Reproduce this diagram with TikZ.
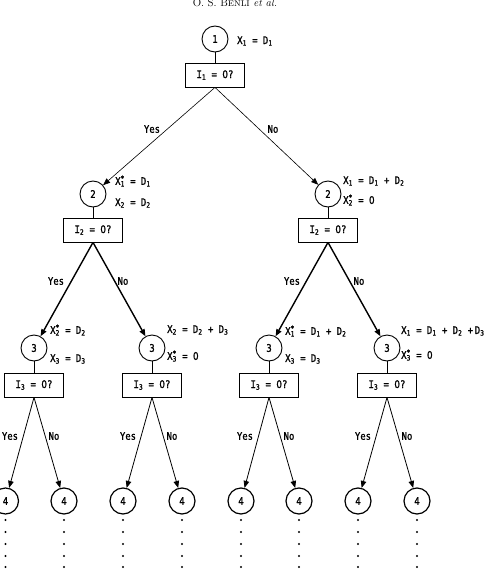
\documentclass[tikz,border=0pt]{standalone}
\usepackage{fontspec}
\setmonofont{DejaVu Sans Mono}[FakeStretch=0.85, FakeBold=1.2]
\newfontfamily\zerofont{DejaVu Sans}[FakeStretch=0.85, FakeBold=1.2]
\usetikzlibrary{arrows.meta,positioning}
\newcommand{\vx}[3][]{#2\rlap{\textsuperscript{#1}}\textsubscript{#3}}
\newcommand{\nil}{{\zerofont 0}}

\begin{document}
\begin{tikzpicture}[x=1pt, y=-1pt, font=\ttfamily\fontsize{10.5}{12}\selectfont,
	state/.style={draw, circle, minimum size=26pt, inner sep=0pt, line width=0.9pt},
	test/.style={draw, minimum width=59pt, minimum height=24pt, inner sep=1pt, line width=0.8pt},
	val/.style={anchor=west, inner sep=0pt},
	arr/.style={-{Triangle[length=7pt, width=5.5pt]}}]
	\useasboundingbox (0,0) rectangle (485,570);
	\node[font=\rmfamily\fontsize{11}{13}\selectfont, anchor=base] (head) at (235,6) {O. S. B\textsc{enli} \textit{et al.}};
	% stage 1
	\node[state] (n1) at (215,39) {1};
	\node[test] (q1) at (215,75) {\vx{I}{1} = \nil?};
	\draw[line width=0.8pt] (n1) -- (q1);
	\node[val] (v1) at (237,41) {\vx{X}{1} = \vx{D}{1}};
	% stage 2
	\node[state] (n2a) at (93,194) {2};
	\node[test] (q2a) at (93,230) {\vx{I}{2} = \nil?};
	\node[state] (n2b) at (328,194) {2};
	\node[test] (q2b) at (328,230) {\vx{I}{2} = \nil?};
	\draw[line width=0.8pt] (n2a) -- (q2a);
	\draw[line width=0.8pt] (n2b) -- (q2b);
	\draw[arr, line width=0.6pt] (q1.south) -- (n2a);
	\draw[arr, line width=0.6pt] (q1.south) -- (n2b);
	\node (y1) at (152,129) {Yes};
	\node (m1) at (273,129) {No};
	\node[val] (v2a) at (115,181) {\vx[*]{X}{1} = \vx{D}{1}};
	\node[val] (v2b) at (115,203) {\vx{X}{2} = \vx{D}{2}};
	\node[val] (v2c) at (343,181) {\vx{X}{1} = \vx{D}{1} + \vx{D}{2}};
	\node[val] (v2d) at (343,200) {\vx[*]{X}{2} = \nil};
	% stage 3
	\foreach \b/\x in {a/34,b/152,c/269,d/387}{
		\node[state] (n3\b) at (\x,348) {3};
		\node[test] (q3\b) at (\x,385) {\vx{I}{3} = \nil?};
		\draw[line width=0.8pt] (n3\b) -- (q3\b);
		\node (y3\b) at (\x-24,436) {Yes};
		\node (m3\b) at (\x+20,436) {No};}
	\foreach \b/\l/\r in {a/a/b,b/c/d}{
		\draw[arr, line width=1.4pt] (q2\b.south) -- (n3\l);
		\draw[arr, line width=1.4pt] (q2\b.south) -- (n3\r);}
	\node (y2a) at (56,281) {Yes};
	\node (m2a) at (123,281) {No};
	\node (y2b) at (292,281) {Yes};
	\node (m2b) at (359,281) {No};
	\node[val] (v3a) at (50,330) {\vx[*]{X}{2} = \vx{D}{2}};
	\node[val] (v3b) at (50,359) {\vx{X}{3} = \vx{D}{3}};
	\node[val] (v3c) at (167,330) {\vx{X}{2} = \vx{D}{2} + \vx{D}{3}};
	\node[val] (v3d) at (167,356) {\vx[*]{X}{3} = \nil};
	\node[val] (v3e) at (285,331) {\vx[*]{X}{1} = \vx{D}{1} + \vx{D}{2}};
	\node[val] (v3f) at (285,359) {\vx{X}{3} = \vx{D}{3}};
	\node[val] (v3g) at (401,331) {\vx{X}{1} = \vx{D}{1} + \vx{D}{2} +\,\vx{D}{3}};
	\node[val] (v3h) at (401,355) {\vx[*]{X}{3} = \nil};
	% stage 4
	\foreach \i/\x in {1/5.5,2/64,3/123,4/182,5/241,6/299,7/358,8/417}{
		\node[state, line width=1.2pt] (n4\i) at (\x,501) {4};
		\foreach \y in {520,532,544,556,567}
			\fill (\x,\y) circle (1.1pt);}
	\foreach \b/\l/\r in {a/1/2,b/3/4,c/5/6,d/7/8}{
		\draw[arr, line width=0.8pt] (q3\b.south) -- (n4\l);
		\draw[arr, line width=0.8pt] (q3\b.south) -- (n4\r);}
\end{tikzpicture}
\end{document}
